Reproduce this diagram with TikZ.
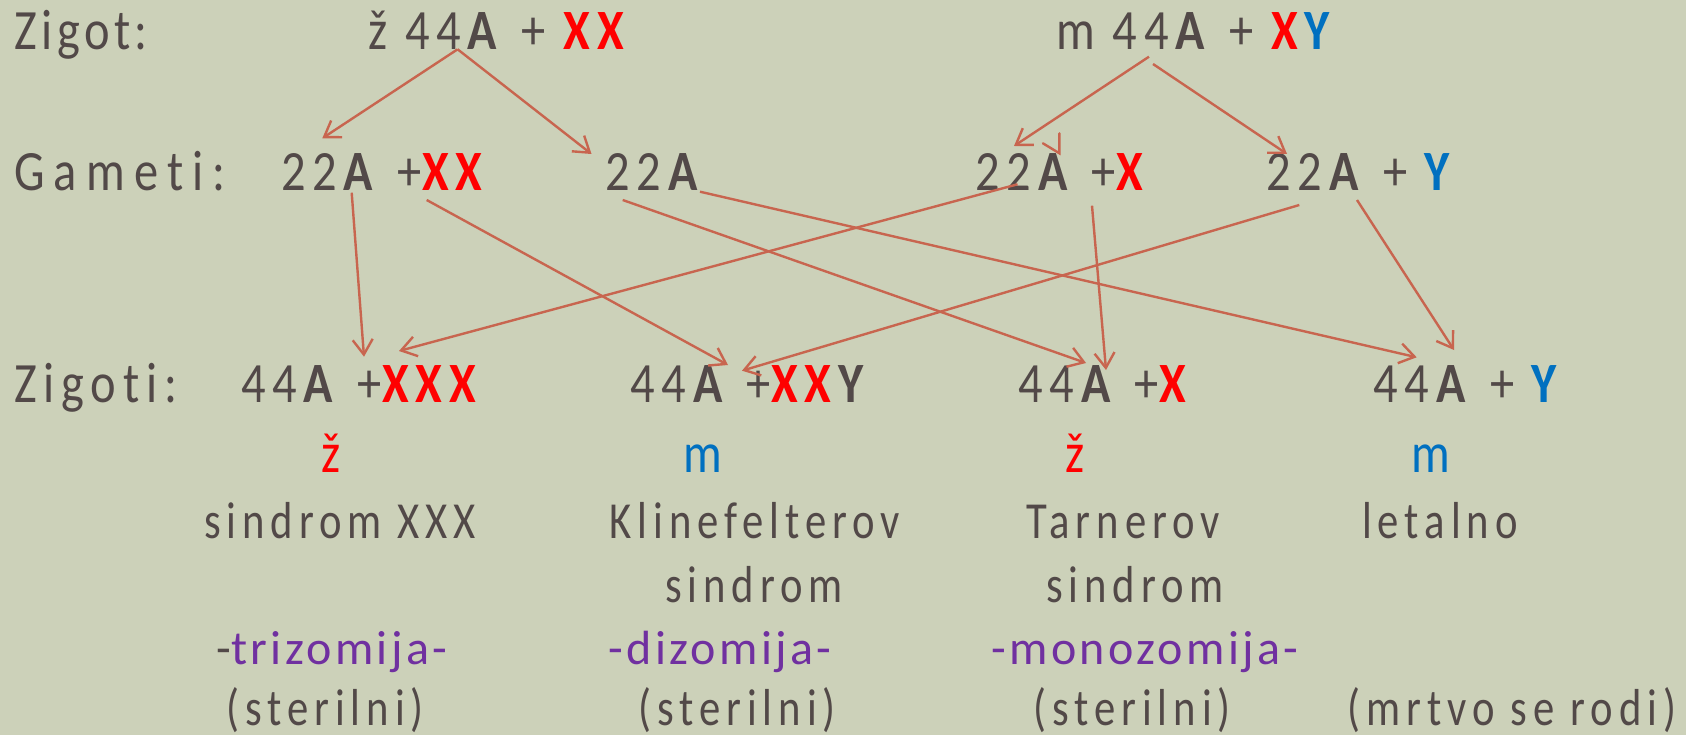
\documentclass[tikz,border=0pt]{standalone}
\usepackage{fontspec}
\usetikzlibrary{arrows.meta}
\setmainfont{Carlito}
\newfontfamily\zigf{Carlito}[LetterSpace=8,FakeStretch=0.85,Ligatures=NoCommon]
\newfontfamily\rowf{Carlito}[LetterSpace=12,FakeStretch=0.85,Ligatures=NoCommon]
\newfontfamily\gamf{Carlito}[LetterSpace=16,FakeStretch=0.85,Ligatures=NoCommon]
\newfontfamily\descf{Carlito}[LetterSpace=11.5,FakeStretch=0.82,Ligatures=NoCommon]
\newfontfamily\purf{Carlito}[LetterSpace=7,Ligatures=NoCommon]
\definecolor{bg}{HTML}{CCD1B9}
\definecolor{txt}{HTML}{524948}
\definecolor{xred}{HTML}{FF0000}
\definecolor{yblue}{HTML}{0070C0}
\definecolor{purp}{HTML}{7030A0}
\definecolor{arr}{HTML}{C8654F}
\newcommand\xr[1]{\textcolor{xred}{\textbf{#1}}}
\newcommand\yb[1]{\textcolor{yblue}{\textbf{#1}}}
\newcommand\gr[1]{\textcolor{txt}{#1}}
\begin{document}
\begin{tikzpicture}[x=1pt,y=-1pt,
  zig/.style={anchor=base west, inner sep=0pt, text=txt, font=\zigf\fontsize{57}{64}\selectfont},
  row/.style={anchor=base west, inner sep=0pt, text=txt, font=\rowf\fontsize{57}{64}\selectfont},
  lbl/.style={anchor=base west, inner sep=0pt, text=txt, font=\gamf\fontsize{57}{64}\selectfont},
  sex/.style={anchor=base, inner sep=0pt, font=\rowf\fontsize{57}{64}\selectfont},
  desc/.style={anchor=base, inner sep=0pt, text=txt, font=\descf\fontsize{52}{60}\selectfont},
  purple/.style={anchor=base, inner sep=0pt, text=purp, font=\purf\fontsize{48}{56}\selectfont},
  link/.style={draw=arr, line width=2.4pt, -{Straight Barb[length=15pt,width=20pt]}}]
\fill[bg] (0,0) rectangle (1686,735);
\useasboundingbox (0,0) rectangle (1686,735);
% row labels
\node[zig] (lz) at (14,50) {Zigot:};
\node[lbl] (lg) at (14,191) {Gameti:};
\node[row] (lzz) at (14,402) {Zigoti:};
% parents
\node[row] (zf) at (368,50) {ž 44\textbf{A} + \xr{XX}};
\node[row] (zm) at (1056,50) {m 44\textbf{A} + \xr{X}\yb{Y}};
% gametes
\node[row] (g1) at (281,191) {22\textbf{A} +\xr{XX}};
\node[row] (g2) at (605,191) {22\textbf{A}};
\node[row] (g3) at (975,191) {22\textbf{A} +\xr{X}};
\node[row] (g4) at (1266,191) {22\textbf{A} + \yb{Y}};
% zygotes
\node[row] (z1) at (241,402) {44\textbf{A} +\xr{XXX}};
\node[row] (z2) at (630,402) {44\textbf{A} +\xr{XX}\textbf{Y}};
\node[row] (z3) at (1018,402) {44\textbf{A} +\xr{X}};
\node[row] (z4) at (1373,402) {44\textbf{A} + \yb{Y}};
% sex
\node[sex, text=xred] (s1) at (331,472) {ž};
\node[sex, text=yblue] (s2) at (703,472) {m};
\node[sex, text=xred] (s3) at (1075,472) {ž};
\node[sex, text=yblue] (s4) at (1431,472) {m};
% descriptions
\node[desc] (d1) at (340,538) {sindrom XXX};
\node[desc] (d2) at (755,538) {Klinefelterov};
\node[desc] (d3) at (1123,538) {Tarnerov};
\node[desc] (d4) at (1440,538) {letalno};
\node[desc] (e2) at (754,602) {sindrom};
\node[desc] (e3) at (1135,602) {sindrom};
\node[purple] (p1) at (332,664) {\gr{-}trizomija-};
\node[purple] (p2) at (720,664) {-dizomija-};
\node[purple] (p3) at (1145,664) {-monozomija-};
\node[desc] (q1) at (325,725) {(sterilni)};
\node[desc] (q2) at (737,725) {(sterilni)};
\node[desc] (q3) at (1132,725) {(sterilni)};
\node[desc] (q4) at (1512,725) {(mrtvo se rodi)};
% connector ends
\coordinate (zfo) at (457.6,49.3);
\coordinate (zmo1) at (1149,56.7);
\coordinate (zmo2) at (1153,64);
\coordinate (g1i) at (322.3,138.3);
\coordinate (g2i) at (591.5,154);
\coordinate (g3i) at (1014,146);
\coordinate (g4i) at (1287,154);
\coordinate (g1o1) at (351.7,192.7);
\coordinate (g1o2) at (426.7,200);
\coordinate (g2o1) at (622.7,200);
\coordinate (g2o2) at (700,191.7);
\coordinate (g3o1) at (1017.5,184.3);
\coordinate (g3o2) at (1092,205.7);
\coordinate (g4o1) at (1299.3,205);
\coordinate (g4o2) at (1357,200);
\coordinate (z1i1) at (364,356.7);
\coordinate (z1i2) at (399,351);
\coordinate (z2i1) at (728,365);
\coordinate (z2i2) at (742,370.7);
\coordinate (z3i1) at (1086,363);
\coordinate (z3i2) at (1106,370);
\coordinate (z4i1) at (1416.7,357.3);
\coordinate (z4i2) at (1454,350);
% connectors
\draw[link] (zfo) -- (g1i);
\draw[link] (zfo) -- (g2i);
\draw[link] (zmo1) -- (g3i);
\draw[link] (zmo2) -- (g4i);
\draw[link] (g1o1) -- (z1i1);
\draw[link] (g1o2) -- (z2i1);
\draw[link] (g2o1) -- (z3i1);
\draw[link] (g2o2) -- (z4i1);
\draw[link] (g3o1) -- (z1i2);
\draw[link] (g3o2) -- (z3i2);
\draw[link] (g4o1) -- (z2i2);
\draw[link] (g4o2) -- (z4i2);
% stray arrowhead
\draw[arr, line width=2.4pt, line cap=round, line join=miter] (1059.4,133.3) -- (1059.4,153.3) -- (1042.9,143.3);
\end{tikzpicture}
\end{document}
